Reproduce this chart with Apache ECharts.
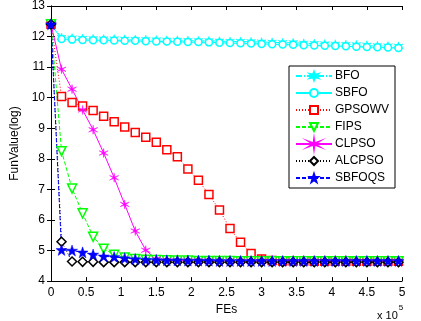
<!DOCTYPE html>
<html><head><meta charset="utf-8">
<script src="https://cdn.jsdelivr.net/npm/echarts@6/dist/echarts.min.js"></script>
<style>html,body{margin:0;padding:0;background:#fff}#c{width:421px;height:321px}</style>
</head><body><div id="c"></div>
<script>
// FEs in units of 1e5
var fes = [0,0.15,0.3,0.45,0.6,0.75,0.9,1.05,1.2,1.35,1.5,1.65,1.8,1.95,2.1,2.25,2.4,2.55,2.7,2.85,3.0,3.15,3.3,3.45,3.6,3.75,3.9,4.05,4.2,4.35,4.5,4.65,4.8,4.95];
var xTicks = [0,0.5,1,1.5,2,2.5,3,3.5,4,4.5,5];
var yTicks = [4,5,6,7,8,9,10,11,12,13];
var bfo    = [12.4,11.97,11.95,11.94,11.93,11.92,11.92,11.91,11.9,11.9,11.89,11.88,11.88,11.87,11.86,11.86,11.85,11.84,11.84,11.83,11.82,11.81,11.8,11.8,11.78,11.77,11.76,11.75,11.74,11.73,11.72,11.7,11.69,11.68];
var sbfo   = [12.4,11.92,11.9,11.89,11.88,11.88,11.87,11.86,11.86,11.85,11.84,11.84,11.83,11.82,11.82,11.81,11.8,11.79,11.78,11.77,11.76,11.75,11.74,11.73,11.72,11.71,11.7,11.69,11.68,11.67,11.66,11.65,11.64,11.63];
var gpsowv = [12.4,10.04,9.84,9.73,9.58,9.39,9.21,9.04,8.86,8.71,8.54,8.30,8.07,7.67,7.30,6.83,6.33,5.72,5.27,4.90,4.72,4.67,4.66,4.66,4.66,4.65,4.65,4.65,4.65,4.65,4.65,4.65,4.65,4.65];
var fips   = [12.4,8.25,7.03,6.22,5.45,5.06,4.86,4.77,4.72,4.70,4.69,4.68,4.67,4.67,4.66,4.66,4.66,4.66,4.65,4.65,4.65,4.65,4.65,4.65,4.65,4.65,4.65,4.65,4.65,4.65,4.65,4.65,4.65,4.65];
var clpso  = [12.4,10.93,10.28,9.6,8.95,8.19,7.38,6.51,5.64,5.01,4.72,4.68,4.67,4.67,4.66,4.66,4.66,4.66,4.65,4.65,4.65,4.65,4.65,4.65,4.65,4.65,4.65,4.65,4.65,4.65,4.65,4.65,4.65,4.65];
var alcpso = [12.4,5.29,4.64,4.63,4.63,4.62,4.62,4.62,4.62,4.62,4.62,4.62,4.62,4.62,4.62,4.62,4.62,4.62,4.62,4.62,4.62,4.62,4.62,4.62,4.62,4.62,4.62,4.62,4.62,4.62,4.62,4.62,4.62,4.62];
var sbfoqs = [12.4,5.02,5.0,4.94,4.87,4.81,4.79,4.75,4.72,4.70,4.69,4.68,4.68,4.67,4.67,4.67,4.66,4.66,4.66,4.66,4.66,4.66,4.66,4.66,4.66,4.66,4.66,4.66,4.66,4.66,4.66,4.66,4.66,4.66];
var names = ['BFO','SBFO','GPSOWV','FIPS','CLPSO','ALCPSO','SBFOQS'];

var hexagram = 'path://M10 0 L12 6.54 L18.66 5 L14 10 L18.66 15 L12 13.46 L10 20 L8 13.46 L1.34 15 L6 10 L1.34 5 L8 6.54 Z';
var asterisk = 'path://M10 0 L11 8.3 L18.66 5 L12 10 L18.66 15 L11 11.7 L10 20 L9 11.7 L1.34 15 L8 10 L1.34 5 L9 8.3 Z';
var pentagram = 'path://M10 0 L12.35 6.76 L19.51 6.91 L13.8 11.24 L15.88 18.09 L10 14 L4.12 18.09 L6.2 11.24 L0.49 6.91 L7.65 6.76 Z';
var triDown = 'path://M0 0 L20 0 L10 18 Z';

function pairs(v){ return fes.map(function(x,i){ return [x, v[i]]; }); }
function mk(name, data, color, lineType, symbol, size, filled){
  return {
    name: name, type: 'line', data: pairs(data), symbol: symbol, symbolSize: size,
    showAllSymbol: true, animation: false,
    lineStyle: {color: color, width: 1, type: lineType},
    itemStyle: filled ? {color: color, borderColor: color, borderWidth: 0.5} : {color: '#fff', borderColor: color, borderWidth: 1.5},
    emphasis: {disabled: true}
  };
}

var chart = echarts.init(document.getElementById('c'), null, {renderer: 'canvas'});
var font = 'Liberation Sans, Arial, Helvetica, sans-serif';
chart.setOption({
  backgroundColor: '#fff',
  animation: false,
  textStyle: {fontFamily: font},
  grid: {left: 51, right: 19, top: 6, bottom: 39, show: false},
  legend: {
    orient: 'vertical', left: 289, top: 66, width: 96,
    padding: [4, 6, 4, 6], itemGap: 5, itemWidth: 36, itemHeight: 10,
    borderColor: '#000', borderWidth: 1, backgroundColor: '#fff',
    textStyle: {fontFamily: font, fontSize: 12, color: '#000', padding: [0,0,0,-2]},
    data: names
  },
  xAxis: [{
    type: 'value', min: 0, max: 5, interval: 0.5,
    name: 'FEs', nameLocation: 'middle', nameGap: 21,
    nameTextStyle: {fontFamily: font, fontSize: 12, color: '#000'},
    axisLine: {show: true, lineStyle: {color: '#000', width: 1}},
    axisTick: {show: true, inside: true, length: 4, lineStyle: {color: '#000'}},
    axisLabel: {fontFamily: font, fontSize: 12, color: '#000', margin: 6,
      formatter: function(v){ return xTicks.indexOf(v) >= 0 ? String(v) : ''; }},
    splitLine: {show: false}
  },{
    type: 'value', min: 0, max: 5, interval: 0.5, position: 'top',
    axisLine: {show: true, lineStyle: {color: '#000', width: 1}},
    axisTick: {show: true, inside: true, length: 4, lineStyle: {color: '#000'}},
    axisLabel: {show: false}, splitLine: {show: false}
  }],
  yAxis: [{
    type: 'value', min: 4, max: 13, interval: 1,
    name: 'FunValue(log)', nameLocation: 'middle', nameGap: 28, nameRotate: 90,
    nameTextStyle: {fontFamily: font, fontSize: 12, color: '#000'},
    axisLine: {show: true, lineStyle: {color: '#000', width: 1}},
    axisTick: {show: true, inside: true, length: 4, lineStyle: {color: '#000'}},
    axisLabel: {fontFamily: font, fontSize: 12, color: '#000', margin: 6,
      formatter: function(v){ return yTicks.indexOf(v) >= 0 ? String(v) : ''; }},
    splitLine: {show: false}
  },{
    type: 'value', min: 4, max: 13, interval: 1, position: 'right',
    axisLine: {show: true, lineStyle: {color: '#000', width: 1}},
    axisTick: {show: true, inside: true, length: 4, lineStyle: {color: '#000'}},
    axisLabel: {show: false}, splitLine: {show: false}
  }],
  graphic: [{
    type: 'text', left: 377, top: 304,
    style: {text: '{a|x 10}{b|5}', fontFamily: font,
      rich: {a: {fontSize: 11, fontFamily: font, fill: '#000', verticalAlign: 'bottom', padding: [6,0,0,0]},
             b: {fontSize: 8, fontFamily: font, fill: '#000', verticalAlign: 'top', padding: [0,0,8,1]}}}
  }],
  series: [
    mk('BFO', bfo, '#00FFFF', [6,2,1,2], hexagram, 9, true),
    mk('SBFO', sbfo, '#00FFFF', 'solid', 'circle', 7, false),
    mk('GPSOWV', gpsowv, '#FF0000', [1,2], 'rect', 8, false),
    mk('FIPS', fips, '#00FF00', [4,2], triDown, 9, false),
    mk('CLPSO', clpso, '#FF00FF', 'solid', asterisk, 9, true),
    mk('ALCPSO', alcpso, '#000000', [1,2], 'diamond', 9, false),
    mk('SBFOQS', sbfoqs, '#0000FF', [4,2], pentagram, 11, true)
  ]
});
</script></body></html>
